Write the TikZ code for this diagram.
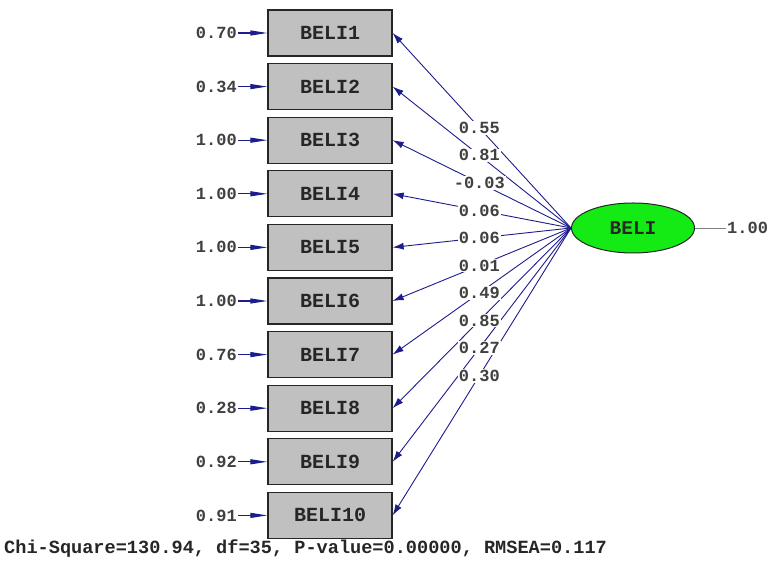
\documentclass[tikz,border=0pt]{standalone}
\usepackage{fontspec}
\setmonofont{Liberation Mono}
\usetikzlibrary{arrows.meta,calc,shapes.geometric}
\definecolor{pathblue}{RGB}{28,28,140}
\definecolor{boxgray}{RGB}{192,192,192}
\definecolor{latgreen}{RGB}{20,235,20}
\tikzset{
  x=1pt, y=1pt,
  obsbox/.style={draw=black!85, line width=1.3pt, fill=boxgray, minimum width=124pt, minimum height=46pt, inner sep=0pt, font=\ttfamily\bfseries\fontsize{20}{20}\selectfont, text=black!85},
  latent/.style={ellipse, draw=black!85, line width=1pt, fill=latgreen, minimum width=123pt, minimum height=50pt, inner sep=0pt, font=\ttfamily\bfseries\fontsize{19.5}{20}\selectfont, text=black!85},
  errlabel/.style={font=\ttfamily\bfseries\fontsize{17}{17}\selectfont, text=black!75, inner sep=1pt, anchor=east},
  coeflabel/.style={font=\ttfamily\bfseries\fontsize{17}{17}\selectfont, text=black!75, fill=white, inner sep=1pt},
  loading/.style={pathblue, line width=0.9pt, -{Latex[length=11pt,width=7pt]}},
  errarrow/.style={pathblue, line width=1.1pt, -{Triangle[length=17pt,width=5pt]}},
  fitline/.style={font=\ttfamily\bfseries\fontsize{18.6}{18.6}\selectfont, text=black!85, anchor=west, inner sep=0pt}
}
\begin{document}
\begin{tikzpicture}
\useasboundingbox (0,0) rectangle (775,561);
% observed indicators
\foreach \i/\e in {1/0.70,2/0.34,3/1.00,4/1.00,5/1.00,6/1.00,7/0.76,8/0.28,9/0.92,10/0.91}{
  \node[obsbox] (b\i) at (330, {561-33-(\i-1)*53.6}) {BELI\i};
  \node[errlabel] (e\i) at (238, {561-33-(\i-1)*53.6}) {\e};
  \draw[errarrow] (e\i.east) -- (b\i.west);
}
% latent factor and its variance
\node[latent] (beli) at (633,333) {BELI};
\node[font=\ttfamily\bfseries\fontsize{17}{17}\selectfont, text=black!75, anchor=west, inner sep=1pt] (var) at (726,333) {1.00};
\draw[gray, line width=0.6pt] (beli.east) -- (var.west);
% factor loadings
\foreach \i in {1,...,10}{
  \draw[loading] (beli.west) -- (b\i.east);
}
\foreach \i/\l in {1/0.55,2/0.81,3/-0.03,4/0.06,5/0.06,6/0.01,7/0.49,8/0.85,9/0.27,10/0.30}{
  \node[coeflabel] (c\i) at ($(beli.west)!0.514!(b\i.east)$) {\l};
}
% fit statistics
\node[fitline] (fit) at (4,12) {Chi-Square=130.94, df=35, P-value=0.00000, RMSEA=0.117};
\end{tikzpicture}
\end{document}
